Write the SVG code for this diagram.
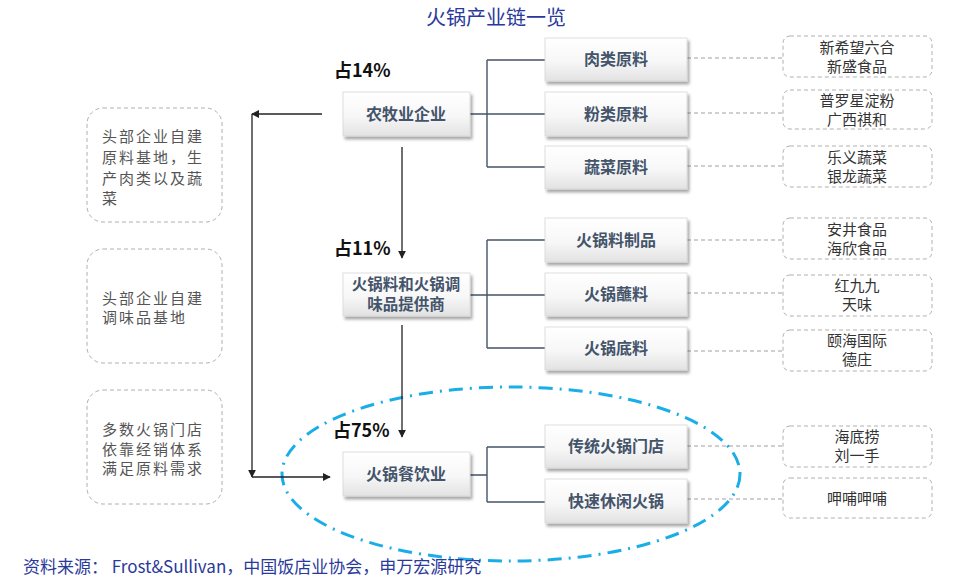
<svg xmlns="http://www.w3.org/2000/svg" width="957" height="582" viewBox="0 0 957 582">
<defs>
<linearGradient id="g" x1="0" y1="0" x2="0" y2="1">
<stop offset="0" stop-color="#ffffff"/>
<stop offset="0.55" stop-color="#f7f7f7"/>
<stop offset="1" stop-color="#e2e2e2"/>
</linearGradient>
<filter id="sh" x="-10%" y="-10%" width="125%" height="140%">
<feDropShadow dx="2" dy="3" stdDeviation="1.6" flood-color="#000" flood-opacity="0.35"/>
</filter>
<marker id="ah" viewBox="0 0 10 10" refX="9" refY="5" markerWidth="8" markerHeight="8" markerUnits="userSpaceOnUse" orient="auto">
<path d="M0,0 L10,5 L0,10 z" fill="#222"/>
</marker>
</defs>
<style>
.box{fill:url(#g);stroke:#d8d8d8;stroke-width:0.8;filter:url(#sh)}
.bt{font-family:"Noto Sans CJK SC","Noto Sans",sans-serif;font-size:16px;font-weight:bold;fill:#44546a;text-anchor:middle}
.bt2{font-family:"Noto Sans CJK SC","Noto Sans",sans-serif;font-size:15.5px;font-weight:bold;fill:#44546a;text-anchor:middle}
.db{fill:#fff;stroke:#b0b0b0;stroke-width:1;stroke-dasharray:4 3}
.rt{font-family:"Noto Sans CJK SC","Noto Sans",sans-serif;font-size:15px;fill:#333;text-anchor:middle}
.lt{font-family:"Noto Sans CJK SC","Noto Sans",sans-serif;font-size:15px;fill:#555;letter-spacing:2px}
.pc{font-family:"Noto Sans CJK SC","Noto Sans",sans-serif;font-size:18px;font-weight:bold;fill:#111}
.cn{fill:none;stroke:#44546a;stroke-width:1.4}
.dl{fill:none;stroke:#a0a0a0;stroke-width:1;stroke-dasharray:4 3}
.ar{fill:none;stroke:#222;stroke-width:1.3}
</style>
<text x="496" y="25" font-family="'Noto Sans CJK SC','Noto Sans',sans-serif" font-size="20" fill="#2a3a9a" text-anchor="middle">火锅产业链一览</text>

<ellipse cx="511" cy="474" rx="229" ry="87" fill="none" stroke="#1aaee8" stroke-width="3" stroke-dasharray="14 7 2 7"/>

<g id="connectors">
<path class="cn" d="M470,114 H487 M487,60 V167 M487,60 H545 M487,114 H545 M487,167 H545"/>
<path class="cn" d="M470,295 H487 M487,240 V348 M487,240 H545 M487,295 H545 M487,348 H545"/>
<path class="cn" d="M470,475 H487 M487,447 V502 M487,447 H545 M487,502 H545"/>
<path class="dl" d="M687,58 H783 M687,113 H783 M687,166 H783 M687,240 H783 M687,293 H783 M687,351 H783 M687,446 H783 M687,499 H783"/>
<path class="ar" d="M402,147 V258" marker-end="url(#ah)"/>
<path class="ar" d="M402,325 V437" marker-end="url(#ah)"/>
<path class="ar" d="M322,114 H252" marker-end="url(#ah)"/>
<path class="ar" d="M252,114 V477" marker-end="url(#ah)"/>
<path class="ar" d="M252,477 H330" marker-end="url(#ah)"/>
</g>

<text class="pc" x="334" y="77">占14%</text>
<text class="pc" x="334" y="255">占11%</text>
<text class="pc" x="333" y="437">占75%</text>

<g id="n1"><rect class="box" x="343" y="92" width="127" height="44"/><text class="bt" x="406" y="120">农牧业企业</text></g>
<g id="n2"><rect class="box" x="343" y="273" width="127" height="43"/><text class="bt2" x="406" y="290">火锅料和火锅调</text><text class="bt2" x="406" y="310">味品提供商</text></g>
<g id="n3"><rect class="box" x="343" y="452" width="127" height="44"/><text class="bt" x="406" y="480">火锅餐饮业</text></g>

<g id="s1"><rect class="box" x="545" y="38" width="142" height="43"/><text class="bt" x="616" y="65">肉类原料</text></g>
<g id="s2"><rect class="box" x="545" y="92" width="142" height="44"/><text class="bt" x="616" y="120">粉类原料</text></g>
<g id="s3"><rect class="box" x="545" y="146" width="142" height="43"/><text class="bt" x="616" y="173">蔬菜原料</text></g>
<g id="s4"><rect class="box" x="545" y="218" width="142" height="44"/><text class="bt" x="616" y="246">火锅料制品</text></g>
<g id="s5"><rect class="box" x="545" y="273" width="142" height="43"/><text class="bt" x="616" y="300">火锅蘸料</text></g>
<g id="s6"><rect class="box" x="545" y="327" width="142" height="43"/><text class="bt" x="616" y="354">火锅底料</text></g>
<g id="s7"><rect class="box" x="545" y="425" width="142" height="43"/><text class="bt" x="616" y="452">传统火锅门店</text></g>
<g id="s8"><rect class="box" x="545" y="479" width="142" height="44"/><text class="bt" x="616" y="507">快速休闲火锅</text></g>

<g id="r1"><rect class="db" x="783" y="36" width="149" height="41" rx="7"/><text class="rt" x="857" y="53">新希望六合</text><text class="rt" x="857" y="72">新盛食品</text></g>
<g id="r2"><rect class="db" x="783" y="90" width="149" height="39" rx="7"/><text class="rt" x="857" y="106">普罗星淀粉</text><text class="rt" x="857" y="125">广西祺和</text></g>
<g id="r3"><rect class="db" x="783" y="146" width="149" height="41" rx="7"/><text class="rt" x="857" y="163">乐义蔬菜</text><text class="rt" x="857" y="182">银龙蔬菜</text></g>
<g id="r4"><rect class="db" x="783" y="218" width="149" height="41" rx="7"/><text class="rt" x="857" y="235">安井食品</text><text class="rt" x="857" y="254">海欣食品</text></g>
<g id="r5"><rect class="db" x="783" y="275" width="149" height="41" rx="7"/><text class="rt" x="857" y="291">红九九</text><text class="rt" x="857" y="310">天味</text></g>
<g id="r6"><rect class="db" x="783" y="330" width="149" height="41" rx="7"/><text class="rt" x="857" y="346">颐海国际</text><text class="rt" x="857" y="365">德庄</text></g>
<g id="r7"><rect class="db" x="783" y="426" width="149" height="41" rx="7"/><text class="rt" x="857" y="442">海底捞</text><text class="rt" x="857" y="461">刘一手</text></g>
<g id="r8"><rect class="db" x="783" y="478" width="149" height="40" rx="7"/><text class="rt" x="857" y="504">呷哺呷哺</text></g>

<g id="l1"><rect class="db" x="87" y="108" width="135" height="114" rx="16"/>
<text class="lt" x="102" y="142">头部企业自建</text><text class="lt" x="102" y="163">原料基地，生</text><text class="lt" x="102" y="184">产肉类以及蔬</text><text class="lt" x="102" y="204">菜</text></g>
<g id="l2"><rect class="db" x="87" y="249" width="135" height="114" rx="16"/>
<text class="lt" x="102" y="304">头部企业自建</text><text class="lt" x="102" y="323">调味品基地</text></g>
<g id="l3"><rect class="db" x="87" y="390" width="135" height="114" rx="16"/>
<text class="lt" x="102" y="435">多数火锅门店</text><text class="lt" x="102" y="455">依靠经销体系</text><text class="lt" x="102" y="474">满足原料需求</text></g>

<text x="23" y="573" font-family="'Noto Sans CJK SC','Noto Sans',sans-serif" font-size="17" fill="#2a3a9a">资料来源： Frost&amp;Sullivan，中国饭店业协会，申万宏源研究</text>
</svg>
